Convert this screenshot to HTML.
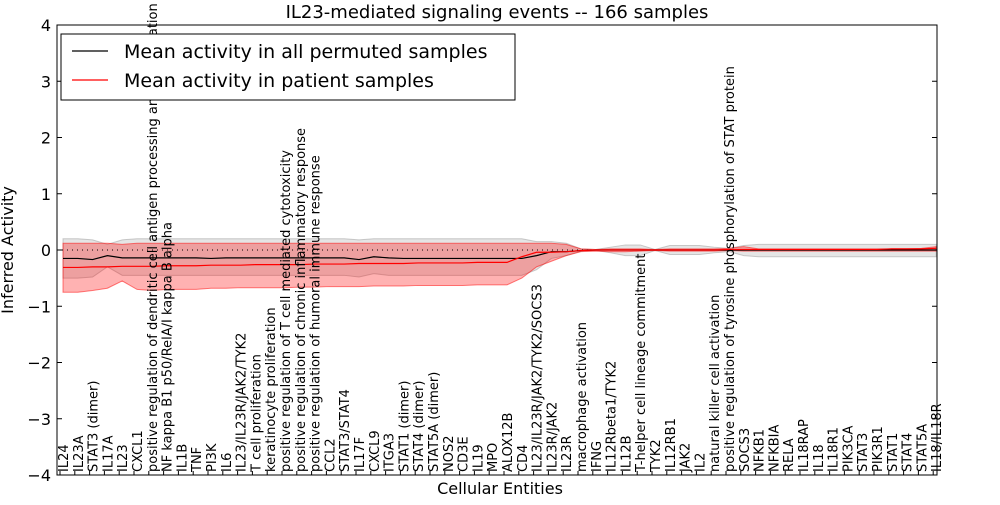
<!DOCTYPE html>
<html><head><meta charset="utf-8"><style>
body{margin:0;background:#fff;width:1000px;height:500px;overflow:hidden}
svg text{font-family:"DejaVu Sans","Liberation Sans",sans-serif}
</style></head><body>
<svg id="c" width="1000" height="500"></svg>
<script>
const labels=["IL24","IL23A","STAT3 (dimer)","IL17A","IL23","CXCL1","positive regulation of dendritic cell antigen processing and presentation","NF kappa B1 p50/RelA/I kappa B alpha","IL1B","TNF","PI3K","IL6","IL23/IL23R/JAK2/TYK2","T cell proliferation","keratinocyte proliferation","positive regulation of T cell mediated cytotoxicity","positive regulation of chronic inflammatory response","positive regulation of humoral immune response","CCL2","STAT3/STAT4","IL17F","CXCL9","ITGA3","STAT1 (dimer)","STAT4 (dimer)","STAT5A (dimer)","NOS2","CD3E","IL19","MPO","ALOX12B","CD4","IL23/IL23R/JAK2/TYK2/SOCS3","IL23R/JAK2","IL23R","macrophage activation","IFNG","IL12Rbeta1/TYK2","IL12B","T-helper cell lineage commitment","TYK2","IL12RB1","JAK2","IL2","natural killer cell activation","positive regulation of tyrosine phosphorylation of STAT protein","SOCS3","NFKB1","NFKBIA","RELA","IL18RAP","IL18","IL18R1","PIK3CA","STAT3","PIK3R1","STAT1","STAT4","STAT5A","IL18/IL18R"];
const permMean=[-0.15,-0.15,-0.17,-0.1,-0.14,-0.14,-0.14,-0.14,-0.14,-0.14,-0.15,-0.14,-0.14,-0.14,-0.14,-0.14,-0.14,-0.14,-0.14,-0.14,-0.17,-0.12,-0.14,-0.15,-0.15,-0.15,-0.15,-0.15,-0.15,-0.15,-0.15,-0.15,-0.1,-0.03,-0.03,-0.01,0,0,0,0,0,0,0,0,0,0,0,0,0,0,0,0,0,0,0,0,0,0,0,0];
const permHi=[0.2,0.2,0.18,0.1,0.18,0.2,0.2,0.2,0.2,0.2,0.2,0.2,0.2,0.2,0.2,0.2,0.2,0.2,0.2,0.2,0.18,0.2,0.2,0.2,0.2,0.2,0.2,0.2,0.2,0.2,0.2,0.2,0.15,0.15,0.12,0.02,0.01,0.05,0.09,0.09,0.01,0.08,0.08,0.08,0.05,0.03,0.08,0.1,0.1,0.1,0.1,0.1,0.1,0.1,0.1,0.1,0.1,0.1,0.1,0.1];
const permLo=[-0.5,-0.5,-0.48,-0.3,-0.45,-0.45,-0.45,-0.45,-0.45,-0.45,-0.45,-0.45,-0.45,-0.45,-0.45,-0.45,-0.45,-0.45,-0.45,-0.45,-0.48,-0.42,-0.45,-0.45,-0.45,-0.45,-0.45,-0.45,-0.45,-0.45,-0.45,-0.45,-0.35,-0.15,-0.1,-0.02,-0.01,-0.05,-0.1,-0.1,-0.01,-0.08,-0.08,-0.08,-0.05,-0.03,-0.1,-0.12,-0.12,-0.12,-0.12,-0.12,-0.12,-0.12,-0.12,-0.12,-0.12,-0.12,-0.12,-0.12];
const patMean=[-0.31,-0.31,-0.3,-0.3,-0.29,-0.29,-0.29,-0.28,-0.28,-0.28,-0.27,-0.27,-0.27,-0.26,-0.26,-0.26,-0.26,-0.25,-0.25,-0.25,-0.24,-0.24,-0.24,-0.24,-0.23,-0.23,-0.23,-0.23,-0.22,-0.22,-0.22,-0.12,-0.04,-0.04,-0.03,-0.01,0,0,0,0,0,0,0,0,0,0.01,0.01,0.01,0.01,0.01,0.01,0.01,0.01,0.01,0.01,0.01,0.02,0.02,0.02,0.03];
const patHi=[0.12,0.12,0.12,0.12,0.1,0.12,0.12,0.12,0.12,0.12,0.12,0.12,0.12,0.12,0.12,0.12,0.12,0.12,0.12,0.12,0.12,0.12,0.12,0.12,0.12,0.12,0.12,0.12,0.12,0.12,0.12,0.12,0.12,0.12,0.1,0.02,0.01,0.02,0.02,0.02,0.01,0.02,0.02,0.02,0.02,0.03,0.06,0.02,0.02,0.02,0.02,0.02,0.02,0.02,0.02,0.02,0.02,0.02,0.03,0.06];
const patLo=[-0.75,-0.75,-0.72,-0.68,-0.55,-0.7,-0.72,-0.7,-0.7,-0.7,-0.68,-0.68,-0.67,-0.67,-0.67,-0.67,-0.66,-0.66,-0.65,-0.65,-0.65,-0.64,-0.64,-0.64,-0.63,-0.63,-0.63,-0.63,-0.62,-0.62,-0.62,-0.5,-0.3,-0.2,-0.1,-0.03,-0.02,-0.03,-0.03,-0.02,-0.01,-0.02,-0.02,-0.02,-0.02,-0.01,-0.02,-0.02,-0.02,-0.02,-0.02,-0.02,-0.02,-0.02,-0.02,-0.02,-0.02,-0.02,-0.02,-0.02];
const yTicks=[4,3,2,1,0,-1,-2,-3,-4];
const NS="http://www.w3.org/2000/svg",svg=document.getElementById('c');
const L=57,R=937,T=25,B=475;
const x=i=>63+i*14.8, y=v=>250-v*56.25;
function mk(t,a,p){const e=document.createElementNS(NS,t);for(const k in a)e.setAttribute(k,a[k]);(p||svg).appendChild(e);return e;}
function band(hi,lo,fill,op,name){let d=hi.map((v,i)=>(i?'L':'M')+x(i)+','+y(v)).join('')+lo.map((v,i)=>i).reverse().map(i=>'L'+x(i)+','+y(lo[i])).join('')+'Z';const e=mk('path',{d:d,fill:fill,'fill-opacity':op,stroke:fill,'stroke-opacity':0.5});}
band(permHi,permLo,'#999',0.25,'permuted-band');
band(patHi,patLo,'#f00',0.3,'patient-band');
const z=mk('line',{x1:L,x2:R,y1:y(0),y2:y(0),stroke:'#000','stroke-dasharray':'1,4'});
function line(arr,col,name){const e=mk('path',{d:arr.map((v,i)=>(i?'L':'M')+x(i)+','+y(v)).join(''),fill:'none',stroke:col,'stroke-width':1.2});}
line(permMean,'#000','permuted-mean-line');
line(patMean,'#f00','patient-mean-line');
const fr=mk('rect',{x:L,y:T,width:R-L,height:B-T,fill:'none',stroke:'#000'});
yTicks.forEach(v=>{mk('line',{x1:L,x2:L+5,y1:y(v),y2:y(v),stroke:'#000'});mk('line',{x1:R-5,x2:R,y1:y(v),y2:y(v),stroke:'#000'});const t=mk('text',{x:L-6,y:y(v)+6,'text-anchor':'end','font-size':16});t.textContent=(v<0?'\u2212'+(-v):v);});
labels.forEach((s,i)=>{mk('line',{x1:x(i)-3,x2:x(i)-3,y1:B,y2:B-4,stroke:'#000'});const t=mk('text',{transform:`translate(${x(i)+5},${B-3}) rotate(-90)`,'font-size':13});t.textContent=s;});
let t=mk('text',{x:497,y:18,'text-anchor':'middle','font-size':18});t.textContent='IL23-mediated signaling events -- 166 samples';
t=mk('text',{x:500,y:494,'text-anchor':'middle','font-size':16});t.textContent='Cellular Entities';
t=mk('text',{transform:'translate(13,250) rotate(-90)','text-anchor':'middle','font-size':16});t.textContent='Inferred Activity';
const lg=mk('g',{});
mk('rect',{x:61,y:34,width:454,height:66,fill:'#fff',stroke:'#000'},lg);
mk('line',{x1:72,x2:108,y1:51,y2:51,stroke:'#000','stroke-width':1.2},lg);
mk('line',{x1:72,x2:108,y1:80,y2:80,stroke:'#f00','stroke-width':1.2},lg);
t=mk('text',{x:124,y:58,'font-size':19},lg);t.textContent='Mean activity in all permuted samples';
t=mk('text',{x:124,y:87,'font-size':19},lg);t.textContent='Mean activity in patient samples';
</script>
</body></html>
